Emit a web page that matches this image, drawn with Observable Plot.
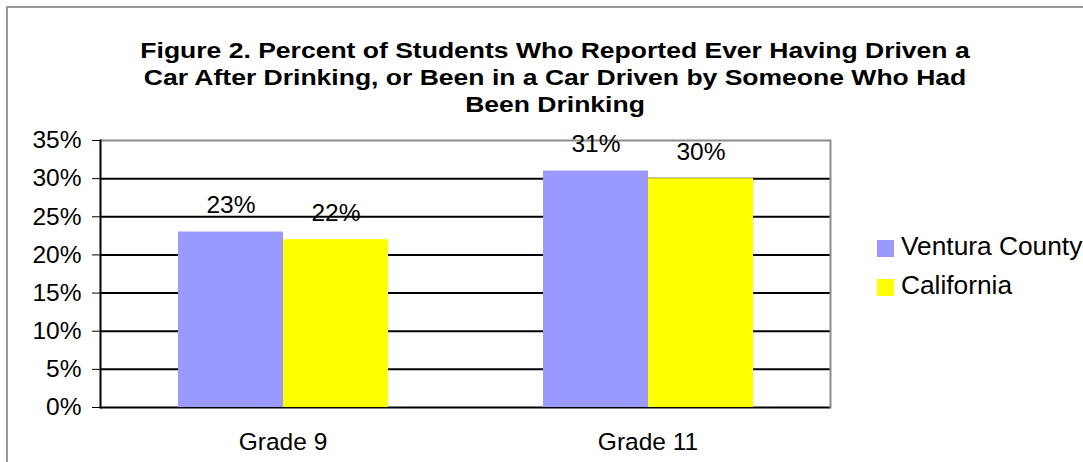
<!DOCTYPE html>
<html>
<head>
<meta charset="utf-8">
<script src="https://cdn.jsdelivr.net/npm/d3@7"></script>
<script src="https://cdn.jsdelivr.net/npm/@observablehq/plot@0.6"></script>
<style>
  html, body { margin: 0; padding: 0; background: #fff; overflow: hidden; }
  #wrap { position: relative; width: 1083px; height: 462px; overflow: hidden; font-family: "Liberation Sans", Arial, sans-serif; color: #000; }
  #border { position: absolute; left: 6px; top: 6px; width: 1200px; height: 600px; border: 2px solid #9a9a9a; }
  #title { position: absolute; left: 55px; width: 1000px; top: 37px; text-align: center; font-weight: bold; font-size: 22px; line-height: 27px; transform: scaleX(1.205); transform-origin: 50% 50%; }
  #chart { position: absolute; left: 0; top: 120px; }
  #legend { position: absolute; left: 877px; top: 230px; font-size: 26.3px; }
  .item { position: relative; height: 39px; }
  .sw { position: absolute; left: 0; top: 10px; width: 17px; height: 17px; }
  .lb { position: absolute; left: 24px; top: 1px; white-space: nowrap; }
</style>
</head>
<body>
<div id="wrap">
  <div id="border"></div>
  <div id="title"><div>Figure 2. Percent of Students Who Reported Ever Having Driven a</div><div>Car After Drinking, or Been in a Car Driven by Someone Who Had</div><div>Been Drinking</div></div>
  <div id="chart"></div>
  <div id="legend"></div>
</div>
<script>
const grades = ["Grade 9", "Grade 11"];
const series = ["Ventura County", "California"];
const ventura = [23, 31];
const california = [22, 30];
const yTicks = [0, 5, 10, 15, 20, 25, 30, 35];
const colors = ["#9999FF", "#FFFF00"];

const data = grades.flatMap((g, i) => [
  {grade: g, series: series[0], value: ventura[i]},
  {grade: g, series: series[1], value: california[i]}
]);

const chart = Plot.plot({
  width: 850,
  height: 342,
  marginLeft: 100,
  marginRight: 20,
  marginTop: 20,
  marginBottom: 55,
  style: {fontFamily: '"Liberation Sans", Arial, sans-serif', fontSize: "24.5px", color: "#000", background: "transparent", overflow: "visible"},
  fx: {domain: grades, padding: 0, label: null, tickSize: 0, tickPadding: 25},
  x: {domain: series, paddingInner: 0, paddingOuter: 0.738, axis: null},
  y: {domain: [0, 35], ticks: yTicks, tickFormat: d => d + "%", tickSize: 8, tickPadding: 11, label: null},
  color: {domain: series, range: colors},
  marks: [
    Plot.ruleY(yTicks.filter(t => t < 35), {stroke: "#000", strokeWidth: 2}),
    Plot.ruleY([35], {stroke: "#8c8c8c", strokeWidth: 2}),
    Plot.frame({anchor: "left", facet: "super", stroke: "#000", strokeWidth: 2}),
    Plot.frame({anchor: "right", facet: "super", stroke: "#8c8c8c", strokeWidth: 2}),
    Plot.barY(data, {fx: "grade", x: "series", y: "value", fill: "series"}),
    Plot.text(data, {fx: "grade", x: "series", y: "value", text: d => d.value + "%", lineAnchor: "bottom", dy: -19, fontSize: 24.5})
  ]
});
document.getElementById("chart").appendChild(chart);

const legend = document.getElementById("legend");
series.forEach((s, i) => {
  const item = document.createElement("div");
  item.className = "item";
  item.innerHTML = `<div class="sw" style="background:${colors[i]}"></div><div class="lb">${s}</div>`;
  legend.appendChild(item);
});
</script>
</body>
</html>
